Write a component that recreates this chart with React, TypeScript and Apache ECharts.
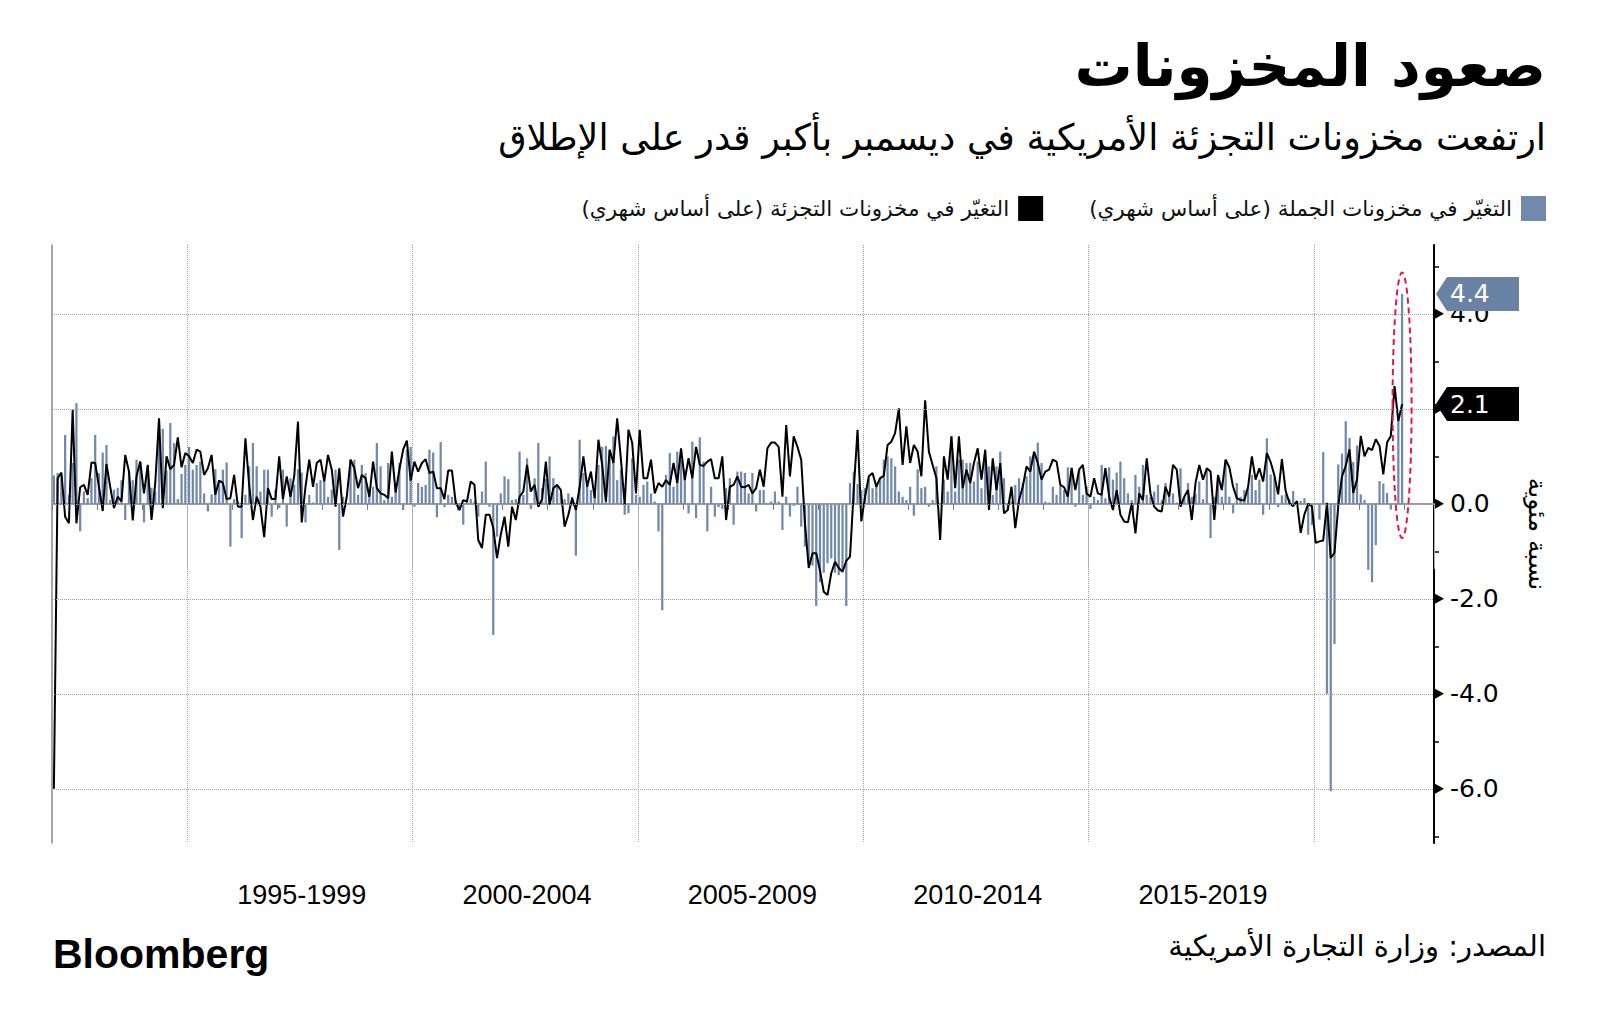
import React, { useEffect, useRef } from 'react';
import * as echarts from 'echarts';

const TITLE = 'صعود المخزونات';
const SUBTITLE = 'ارتفعت مخزونات التجزئة الأمريكية في ديسمبر بأكبر قدر على الإطلاق';
const SOURCE = 'المصدر: وزارة التجارة الأمريكية';
const BRAND = 'Bloomberg';
const WHOLESALE_NAME = 'التغيّر في مخزونات الجملة (على أساس شهري)';
const RETAIL_NAME = 'التغيّر في مخزونات التجزئة (على أساس شهري)';
const Y_NAME = 'نسبة مئوية';

// monthly categories Jan 1992 .. Aug 2022 (axis runs a little past the last data point)
const FIRST_YEAR = 1992;
const LAST_YEAR = 2022;
const LAST_MONTH = 8;
const MONTHS: string[] = [];
for (let y = FIRST_YEAR; y <= LAST_YEAR; y++) {
  for (let m = 1; m <= 12; m++) {
    if (y === LAST_YEAR && m > LAST_MONTH) break;
    MONTHS.push(`${y}-${m < 10 ? '0' + m : m}`);
  }
}

const PERIOD_LABELS = ['1995-1999', '2000-2004', '2005-2009', '2010-2014', '2015-2019'];
const Y_GRID_TICKS = [-6, -4, -2, 0, 2, 4];
// 2.0 sits under the retail end-value tag in the reference, so only these are labelled
const Y_LABEL_TICKS = [-6, -4, -2, 0, 4];
const Y_MINOR_TICKS = [-7, -5, -3, -1, 1, 3, 5];
const Y_MIN = -7.14;
const Y_MAX = 5.45;
const HIGHLIGHT_TOP = 4.87;
const HIGHLIGHT_BOTTOM = -0.72;

// Wholesale inventories, % m/m (bars), Jan 1992 .. Dec 2021
const WHOLESALE = [
  0.6, 0.65, 0.6, 1.45, 0.19, 0.86, 2.12, -0.58, 0.26, 0.12, 0.54, 1.45, // 1992
  0.65, 1.08, 1.24, 0.08, 0.3, 0.34, 0.5, -0.34, 0.68, 0.5, 0.93, 0.89, // 1993
  -0.39, 0.79, 0.34, 0.26, 1.7, 1.58, 0.7, 1.7, 1.28, 0.1, 0.63, 0.82, // 1994
  1.2, 0.72, 0.82, 0.89, 0.22, -0.16, 0.2, 0.73, 0.5, 0.72, 0.87, -0.9, // 1995
  0.1, 0.05, -0.72, 0.19, 0.79, 1.28, 0.79, 0.26, 0.72, 0.72, -0.27, 0.3, // 1996
  -0.09, 0.72, -0.48, 0.54, 0.4, 0.73, 0.66, -0.39, 0.19, 0.03, 0.44, 0.5, // 1997
  0.47, 0.15, 0.3, 0.72, -0.97, 0.15, 0.01, 0.93, 0.93, 0.19, 0.82, 0.65, // 1998
  0.3, 0.36, 1.28, 0.79, 0.08, 0.86, 0.15, 0.44, 0.86, -0.13, 1.14, 1.2, // 1999
  -0.06, 0.44, 0.36, 0.4, 1.14, 1.08, -0.28, 1.3, -0.07, 0.19, 0.15, 0.08, // 2000
  -0.13, -0.44, 0.05, 0.1, 0.05, -0.27, 0.26, 0.89, -0.06, -2.76, -0.69, 0.22, // 2001
  0.58, 0.52, 0.08, 0.1, 1.1, 0.19, 0.96, -0.11, 0.54, 1.28, 0.33, 0.52, // 2002
  1.0, 0.54, 0.4, 0.22, 0.1, 0.22, 0.15, -1.09, 1.35, 0.65, 0.5, 0.29, // 2003
  0.26, 0.82, 1.2, 1.22, 1.14, 1.42, 0.5, 0.72, -0.23, -0.2, 0.96, 0.19, // 2004
  0.15, 0.4, 0.47, 0.22, 0.05, -0.58, -2.24, 0.61, 1.07, 0.36, 1.1, 0.93, // 2005
  0.72, -0.2, 1.31, -0.3, 1.4, 0.89, -0.58, 0.36, -0.27, -0.07, -0.11, 0.33, // 2006
  0.54, -0.44, 0.68, 0.68, 0.65, 0.22, 0.65, -0.16, 0.29, 0.29, -0.02, 0.05, // 2007
  0.26, 0.05, -0.55, 0.15, -0.27, -0.04, 0.36, -0.48, -0.9, -1.2, -1.3, -2.15, // 2008
  -1.65, -1.45, -1.25, -1.15, -1.45, -1.5, -1.4, -2.15, 0.44, 0.68, 0.42, 0.3, // 2009
  0.33, 0.54, 0.33, 0.44, 0.54, 0.93, 1.0, 0.96, 0.79, 0.26, 0.15, 0.08, // 2010
  0.36, -0.25, 0.73, 0.33, 0.36, -0.06, 0.08, 0.79, 0.0, 0.51, 0.26, 1.42, // 2011
  0.26, 0.93, 0.93, 0.86, 0.86, 0.47, 0.89, 0.33, 0.93, 0.79, 0.19, 0.79, // 2012
  1.1, 0.54, -0.14, 0.05, 0.4, 0.54, 0.44, 0.58, 1.0, 1.0, 1.29, 0.86, // 2013
  0.05, 0.03, 0.36, 0.19, 0.38, 0.29, 0.77, 0.77, -0.06, 0.72, 0.19, 0.36, // 2014
  -0.11, 0.15, 0.08, 0.82, 0.12, 0.77, 0.51, 0.66, 0.89, 0.54, 0.22, 0.08, // 2015
  0.61, 0.36, 0.82, 0.19, 0.15, 0.26, 0.4, 0.07, 0.44, 0.15, 0.22, 0.03, // 2016
  0.75, 0.15, 0.44, 0.15, 0.22, 0.47, 0.1, 0.72, -0.72, 0.15, 0.58, 0.15, // 2017
  0.93, 0.15, -0.2, 0.44, 0.15, 0.29, 0.33, 0.61, 0.29, 0.51, -0.23, 1.38, // 2018
  0.62, 0.55, -0.07, 0.18, 0.2, 0.1, 0.27, 0.05, 0.06, 0.12, -0.65, -0.45, // 2019
  0.0, -0.33, 1.09, -4.0, -6.05, -2.95, 0.83, 1.06, 1.74, 1.39, 0.88, 1.23, // 2020
  0.2, 0.08, -1.39, -1.65, -0.87, 0.48, 0.43, 0.23, -0.12, 0.0, 1.74, 4.42, // 2021
];

// Retail inventories, % m/m (line), Jan 1992 .. Dec 2021
const RETAIL = [
  -6.0, 0.54, 0.66, -0.27, -0.41, 1.98, -0.41, 0.35, 0.4, 0.19, 0.87, 0.86, // 1992
  0.36, -0.15, 0.84, 0.36, -0.09, 0.15, 0.05, 1.03, 0.68, -0.35, 0.58, 0.89, // 1993
  0.22, 0.82, -0.34, 0.44, 1.8, -0.09, 1.0, 0.73, 0.82, 1.4, 0.77, 1.07, // 1994
  1.0, 0.86, 1.14, 1.1, 0.61, 0.75, 1.03, 0.19, 0.49, 0.44, 0.1, 0.12, // 1995
  0.61, -0.06, -0.06, 1.38, 0.4, -0.34, 0.15, -0.06, -0.7, 0.33, 0.1, 0.1, // 1996
  1.0, 0.1, 0.58, 0.15, 0.58, 1.73, -0.39, 0.36, 0.93, 0.36, 0.86, 0.93, // 1997
  0.47, 1.03, 0.72, -0.06, 0.75, -0.27, 0.15, 0.93, 0.75, 0.33, 0.61, 0.54, // 1998
  0.15, 0.89, 0.33, 0.22, 0.19, 0.12, 1.1, 0.24, 0.72, 1.14, 1.33, 0.49, // 1999
  0.89, 0.68, 0.86, 0.94, 0.65, 0.68, 0.33, 0.33, 0.1, 0.7, 0.7, 0.03, // 2000
  -0.13, 0.08, 0.05, 0.47, 0.4, -0.76, -0.93, -0.23, -0.23, -0.51, -1.14, -0.65, // 2001
  -0.27, -0.9, -0.06, -0.34, 0.15, 0.26, 0.82, 0.26, 0.4, -0.06, 0.1, 0.89, // 2002
  -0.02, 0.33, 0.4, 0.29, -0.48, -0.23, 0.12, -0.13, 0.36, 1.0, 0.36, 0.68, // 2003
  0.12, 1.35, 0.82, 0.05, 1.14, 0.86, 1.8, 0.93, -0.02, 1.56, 1.28, 0.22, // 2004
  1.56, 0.54, 0.54, 0.93, 0.22, 0.44, 0.36, 0.5, 0.4, 0.86, 0.44, 1.17, // 2005
  0.5, 0.96, 0.54, 1.2, 0.82, 0.8, 0.89, 0.94, 0.54, 0.54, 1.0, -0.34, // 2006
  0.36, 0.4, 0.58, 0.36, 0.35, 0.4, 0.22, 0.33, 0.72, 0.36, 1.17, 1.29, // 2007
  1.29, 1.2, 0.15, 1.66, 0.58, 1.42, 1.2, 0.93, -0.41, -1.35, -1.04, -1.04, // 2008
  -1.4, -1.85, -1.92, -1.46, -1.22, -1.35, -1.43, -1.2, -1.11, 0.3, 1.56, -0.37, // 2009
  0.15, 0.58, 0.65, 0.36, 0.54, 0.59, 1.24, 1.31, 1.49, 2.01, 0.82, 1.63, // 2010
  0.86, 1.24, 1.1, 0.58, 2.18, 1.1, 0.82, 0.54, -0.76, 1.0, 0.51, 1.42, // 2011
  0.33, 1.42, 0.33, 0.72, 0.44, 0.86, 1.17, 0.51, 1.14, -0.13, 0.96, 0.29, // 2012
  0.86, -0.2, -0.13, 0.36, -0.51, 0.08, 0.36, 0.79, 0.68, 1.1, 0.86, 0.51, // 2013
  0.68, 0.72, 0.93, 0.89, 0.4, 0.35, 0.15, 0.75, 0.29, 0.72, 0.82, 0.22, // 2014
  0.15, 0.54, 0.22, 0.19, 0.75, 0.15, -0.13, 0.29, -0.23, -0.37, -0.39, 0.01, // 2015
  -0.62, 0.22, 0.08, 0.96, 0.22, -0.06, -0.14, -0.16, 0.36, 0.15, 0.82, 0.72, // 2016
  -0.06, 0.15, 0.29, -0.34, 0.44, 0.82, 0.51, 0.75, 0.68, -0.34, 0.61, 0.29, // 2017
  0.93, 0.77, 0.36, 0.12, 0.08, 0.07, 0.36, 1.0, 0.51, 0.75, 0.47, 1.07, // 2018
  0.88, 0.6, 0.2, 0.94, 0.27, 0.02, -0.05, 0.06, -0.61, -0.22, 0.0, -0.05, // 2019
  -0.82, -0.79, -0.77, 0.02, -1.14, -1.03, -0.05, 0.58, 0.8, 1.15, 0.23, 0.51, // 2020
  1.43, 1.0, 1.18, 1.13, 1.36, 1.22, 0.62, 1.29, 1.43, 2.48, 1.74, 2.1, // 2021
];

const W = 1600;
const H = 1034;
const GRID = { left: 52, right: 166, top: 245, bottom: 191 };
const BAR_COLOR = '#7189ab';
const TAG_BLUE = '#6a83a4';
const RED = '#e3174c';
const AR_FONT = '"DejaVu Sans", sans-serif';
const RLM = '\u200F';

// category at the middle of each five-year period carries its label
const LABEL_AT: Record<string, string> = {};
PERIOD_LABELS.forEach((p) => {
  const start = parseInt(p.slice(0, 4), 10);
  LABEL_AT[`${start + 2}-07`] = p;
});
const isFiveYearStart = (i: number) => {
  const c = MONTHS[i];
  if (!c) return false;
  const y = parseInt(c.slice(0, 4), 10);
  return c.endsWith('-01') && y % 5 === 0;
};

export default function App() {
  const ref = useRef<HTMLDivElement>(null);

  useEffect(() => {
    if (!ref.current) return;
    const chart = echarts.init(ref.current, undefined, { renderer: 'svg' });

    const option: any = {
      animation: false,
      backgroundColor: '#ffffff',
      title: [
        {
          text: TITLE,
          right: 54,
          top: 37,
          padding: 0,
          textStyle: { fontFamily: AR_FONT, fontWeight: 'bold', fontSize: 58, color: '#000' },
        },
        {
          text: SUBTITLE,
          right: 54,
          top: 119,
          padding: 0,
          textStyle: { fontFamily: AR_FONT, fontWeight: 'normal', fontSize: 36.6, color: '#000' },
        },
        {
          text: SOURCE,
          right: 54,
          top: 931,
          padding: 0,
          textStyle: { fontFamily: AR_FONT, fontWeight: 'normal', fontSize: 29, color: '#000' },
        },
        {
          text: BRAND,
          left: 53,
          top: 933,
          padding: 0,
          textStyle: { fontFamily: '"Liberation Sans", Arial, sans-serif', fontWeight: 'bold', fontSize: 41, color: '#000' },
        },
      ],
      legend: {
        right: 54,
        top: 196,
        padding: 0,
        align: 'right',
        itemWidth: 25,
        itemHeight: 25,
        itemGap: 46,
        selectedMode: false,
        formatter: (name: string) => name + RLM,
        textStyle: { fontFamily: AR_FONT, fontSize: 21.5, color: '#111', padding: [0, 4, 0, 0] },
        data: [
          { name: RETAIL_NAME, icon: 'rect', itemStyle: { color: '#000' } },
          { name: WHOLESALE_NAME, icon: 'rect', itemStyle: { color: BAR_COLOR } },
        ],
      },
      grid: { ...GRID, containLabel: false },
      xAxis: [
        {
          type: 'category',
          data: MONTHS,
          boundaryGap: true,
          axisLine: { show: true, lineStyle: { color: '#9a9a9a', width: 2 } },
          axisTick: {
            show: true,
            length: 6,
            interval: (i: number) => (MONTHS[i] ? MONTHS[i].endsWith('-01') : false),
            lineStyle: { color: '#777', width: 1 },
          },
          axisLabel: { show: false },
          splitLine: {
            show: true,
            interval: (i: number) => isFiveYearStart(i),
            lineStyle: { color: '#a0a0a0', width: 1, type: 'dotted' },
          },
        },
        {
          type: 'category',
          data: MONTHS,
          boundaryGap: true,
          position: 'bottom',
          axisLine: { show: false },
          axisTick: {
            show: true,
            length: 65,
            interval: (i: number) => isFiveYearStart(i),
            lineStyle: { color: '#b0b0b0', width: 1 },
          },
          axisLabel: {
            show: true,
            margin: 38,
            interval: (i: number, v: string) => !!LABEL_AT[v],
            formatter: (v: string) => LABEL_AT[v] || '',
            fontFamily: '"Liberation Sans", Arial, sans-serif',
            fontSize: 27,
            color: '#000',
          },
          splitLine: { show: false },
        },
      ],
      yAxis: [
        {
          type: 'value',
          position: 'right',
          min: Y_MIN,
          max: Y_MAX,
          minInterval: 1,
          maxInterval: 1,
          name: Y_NAME,
          nameLocation: 'middle',
          nameRotate: -90,
          nameGap: 91,
          nameTextStyle: { fontFamily: AR_FONT, fontSize: 25, color: '#000', padding: [0, 20, 0, 0] },
          axisLine: { show: true, lineStyle: { color: '#000', width: 2 } },
          axisTick: {
            show: true,
            inside: false,
            length: 5,
            customValues: Y_MINOR_TICKS,
            lineStyle: { color: '#000', width: 1.5 },
          },
          axisLabel: {
            show: true,
            margin: 16,
            customValues: Y_LABEL_TICKS,
            formatter: (v: number) => v.toFixed(1),
            fontFamily: '"DejaVu Sans", sans-serif',
            fontSize: 25,
            color: '#000',
          },
          splitLine: { show: false },
        },
        {
          type: 'value',
          position: 'left',
          min: Y_MIN,
          max: Y_MAX,
          axisLine: { show: true, lineStyle: { color: '#8a8a8a', width: 1.5 } },
          axisTick: { show: false },
          axisLabel: { show: false },
          splitLine: { show: false },
        },
      ],
      series: [
        {
          name: 'grid',
          type: 'line',
          data: [],
          z: 0,
          silent: true,
          markLine: {
            silent: true,
            symbol: 'none',
            label: { show: false },
            lineStyle: { color: '#a0a0a0', width: 1, type: 'dotted' },
            data: Y_GRID_TICKS.map((v) => ({ yAxis: v })),
          },
        },
        {
          name: WHOLESALE_NAME,
          type: 'bar',
          data: WHOLESALE,
          barWidth: '60%',
          itemStyle: { color: BAR_COLOR },
          z: 2,
        },
        {
          name: RETAIL_NAME,
          type: 'line',
          data: RETAIL,
          symbol: 'none',
          lineStyle: { color: '#000', width: 2 },
          itemStyle: { color: '#000' },
          z: 3,
        },
      ],
    };

    chart.setOption(option);

    const axisX = W - GRID.right;
    const yPix = (v: number) => chart.convertToPixel({ yAxisIndex: 0 }, v) as number;
    const lastIdx = Math.min(WHOLESALE.length, RETAIL.length) - 1;
    const lastCat = MONTHS[lastIdx];
    const xLast = chart.convertToPixel({ xAxisIndex: 0 }, lastCat) as number;

    const graphics: any[] = [];
    Y_GRID_TICKS.forEach((v) => {
      const y = yPix(v);
      graphics.push({
        type: 'polygon',
        z: 50,
        shape: { points: [[axisX + 1, y - 5], [axisX + 10, y], [axisX + 1, y + 5]] },
        style: { fill: '#000' },
      });
    });

    const tags = [
      { value: WHOLESALE[lastIdx], color: TAG_BLUE },
      { value: RETAIL[lastIdx], color: '#000' },
    ];
    tags.forEach((t) => {
      const y = yPix(t.value);
      graphics.push({
        type: 'polygon',
        z: 60,
        shape: {
          points: [
            [axisX + 2, y],
            [axisX + 13, y - 17],
            [axisX + 85, y - 17],
            [axisX + 85, y + 17],
            [axisX + 13, y + 17],
          ],
        },
        style: { fill: t.color },
      });
      graphics.push({
        type: 'text',
        z: 61,
        x: axisX + 16,
        y,
        style: {
          text: t.value.toFixed(1),
          fill: '#fff',
          fontSize: 25,
          fontFamily: '"DejaVu Sans", sans-serif',
          verticalAlign: 'middle',
          align: 'left',
        },
      });
    });

    const yTop = yPix(HIGHLIGHT_TOP);
    const yBot = yPix(HIGHLIGHT_BOTTOM);
    graphics.push({
      type: 'ellipse',
      z: 40,
      shape: { cx: xLast, cy: (yTop + yBot) / 2, rx: 9.5, ry: (yBot - yTop) / 2 },
      style: { fill: 'none', stroke: RED, lineWidth: 2, lineDash: [6, 4] },
    });

    chart.setOption({ graphic: graphics });

    return () => {
      chart.dispose();
    };
  }, []);

  return (
    <div
      ref={ref}
      style={{ position: 'absolute', left: 0, top: 0, width: W, height: H, background: '#fff' }}
    />
  );
}
